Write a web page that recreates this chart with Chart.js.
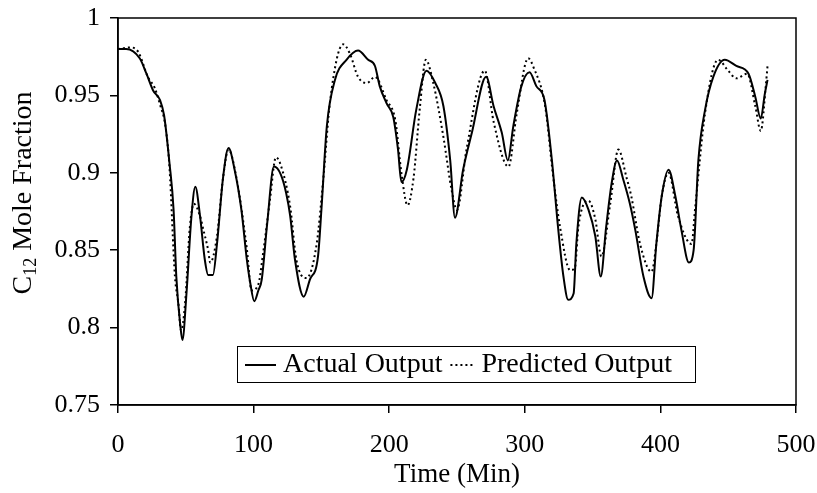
<!DOCTYPE html>
<html>
<head>
<meta charset="utf-8">
<script src="https://cdn.jsdelivr.net/npm/chart.js@4.4.1/dist/chart.umd.min.js"></script>
<style>
  html, body { margin: 0; padding: 0; background: #fff; }
  #wrap { width: 817px; height: 493px; position: relative; }
</style>
</head>
<body>
<div id="wrap"><canvas id="c" width="817" height="493"></canvas></div>
<script>
// ---- Data ----
const actualTime = [0, 6, 16, 21, 26, 31, 34, 38, 41, 43, 46, 47.5, 50.5, 54, 57, 60.5, 64, 66.5, 70, 73, 77.5, 81.5, 86, 91, 95, 97.5, 100.5, 103.5, 106, 110, 115, 120, 124, 127, 130.5, 137, 141.5, 147.5, 150, 154, 160, 168.5, 177, 184.5, 189.5, 193, 198, 203, 206.5, 209, 213, 220, 227.5, 234, 240, 245, 248.5, 254.5, 261, 271.5, 277, 283, 287.5, 291.5, 297.5, 303.5, 308.5, 314.5, 320, 324.5, 328.5, 332, 336, 338, 342, 347, 352, 356, 360, 364, 368, 372.5, 377.5, 381.5, 387.5, 393.5, 397, 401, 406, 411, 415.5, 421, 424.5, 428, 433, 439, 447.5, 456, 465, 470, 474, 477, 479];
const actualValue = [0.980, 0.980, 0.974, 0.964, 0.953, 0.947, 0.937, 0.906, 0.876, 0.833, 0.801, 0.792, 0.822, 0.870, 0.891, 0.872, 0.844, 0.834, 0.834, 0.854, 0.897, 0.916, 0.902, 0.876, 0.844, 0.829, 0.817, 0.824, 0.831, 0.867, 0.904, 0.899, 0.887, 0.872, 0.844, 0.820, 0.831, 0.846, 0.876, 0.930, 0.960, 0.973, 0.979, 0.973, 0.969, 0.956, 0.945, 0.936, 0.915, 0.894, 0.902, 0.941, 0.966, 0.958, 0.943, 0.908, 0.871, 0.902, 0.926, 0.962, 0.943, 0.926, 0.908, 0.930, 0.956, 0.965, 0.956, 0.947, 0.908, 0.865, 0.833, 0.818, 0.822, 0.854, 0.884, 0.876, 0.859, 0.833, 0.865, 0.893, 0.908, 0.896, 0.880, 0.863, 0.833, 0.819, 0.854, 0.885, 0.902, 0.885, 0.863, 0.842, 0.850, 0.908, 0.941, 0.962, 0.973, 0.969, 0.964, 0.949, 0.935, 0.951, 0.960];

const predictedTime = [0, 9, 15, 22, 27, 31, 35, 38, 42, 44.5, 46.5, 49.5, 53, 56, 60.5, 63, 66.5, 68, 73, 77.5, 81.5, 87.5, 95, 98.5, 103.5, 107, 112, 116.5, 120, 127, 131.5, 139, 146.5, 151.5, 156.5, 166, 171, 177, 183.5, 189.5, 198, 204.5, 209, 213.5, 218, 222.5, 227, 232.5, 240, 246, 250, 257, 270.5, 277, 288, 294, 302.5, 306.5, 315, 321, 326, 333.5, 337, 339.5, 347, 352, 356.5, 363, 369, 375, 378.5, 385, 393.5, 397, 401, 406, 413, 423, 425.5, 433, 442.5, 450, 456, 464, 470, 474, 478, 479];
const predictedValue = [0.980, 0.981, 0.978, 0.962, 0.955, 0.944, 0.930, 0.903, 0.833, 0.816, 0.798, 0.816, 0.865, 0.880, 0.872, 0.863, 0.850, 0.842, 0.859, 0.897, 0.915, 0.896, 0.851, 0.824, 0.828, 0.848, 0.882, 0.910, 0.905, 0.878, 0.844, 0.832, 0.854, 0.897, 0.947, 0.983, 0.977, 0.962, 0.958, 0.962, 0.947, 0.934, 0.900, 0.879, 0.897, 0.941, 0.973, 0.958, 0.923, 0.889, 0.876, 0.915, 0.966, 0.933, 0.904, 0.938, 0.974, 0.968, 0.943, 0.897, 0.865, 0.837, 0.839, 0.865, 0.882, 0.870, 0.846, 0.880, 0.915, 0.897, 0.885, 0.854, 0.836, 0.854, 0.885, 0.900, 0.872, 0.854, 0.876, 0.939, 0.973, 0.966, 0.961, 0.964, 0.943, 0.927, 0.959, 0.969];

const seriesNames = ['Actual Output', 'Predicted Output'];
const xTickValues = [0, 100, 200, 300, 400, 500];
const xTickLabels = ['0', '100', '200', '300', '400', '500'];
const yTickValues = [0.75, 0.8, 0.85, 0.9, 0.95, 1];
const yTickLabels = ['0.75', '0.8', '0.85', '0.9', '0.95', '1'];
const xTitle = 'Time (Min)';
const yTitleParts = ['C', '12', ' Mole Fraction'];

// ---- Build ----
const FONT = "'Liberation Serif', 'Times New Roman', serif";
const toPts = (xs, ys) => xs.map((x, i) => ({ x: x, y: ys[i] }));

const frame = {
  id: 'frame',
  afterDraw(chart) {
    const { ctx, chartArea: a } = chart;
    ctx.save();
    ctx.strokeStyle = '#000';
    ctx.lineWidth = 1.5;
    ctx.strokeRect(a.left, a.top, a.right - a.left, a.bottom - a.top);

    // Y axis title with subscript
    ctx.translate(24, 193);
    ctx.rotate(-Math.PI / 2);
    ctx.fillStyle = '#000';
    ctx.textBaseline = 'middle';
    const big = "28px " + FONT, small = "18px " + FONT;
    ctx.font = big; const w0 = ctx.measureText(yTitleParts[0]).width;
    ctx.font = small; const w1 = ctx.measureText(yTitleParts[1]).width;
    ctx.font = big; const w2 = ctx.measureText(yTitleParts[2]).width;
    let x = -(w0 + w1 + w2) / 2;
    ctx.font = big; ctx.fillText(yTitleParts[0], x, 0); x += w0;
    ctx.font = small; ctx.fillText(yTitleParts[1], x, 7); x += w1;
    ctx.font = big; ctx.fillText(yTitleParts[2], x, 0);
    ctx.restore();

    // Legend box
    ctx.save();
    const lx = 237, ly = 346, lw = 458, lh = 36;
    ctx.fillStyle = '#fff';
    ctx.fillRect(lx, ly, lw, lh);
    ctx.strokeStyle = '#000';
    ctx.lineWidth = 1;
    ctx.strokeRect(lx + 0.5, ly + 0.5, lw, lh);
    const cy = ly + lh / 2 + 1;
    ctx.font = "28px " + FONT;
    ctx.textBaseline = 'middle';
    ctx.fillStyle = '#000';
    const ds = chart.data.datasets;
    ctx.lineWidth = 2;
    ctx.setLineDash(ds[0].borderDash || []);
    ctx.beginPath(); ctx.moveTo(lx + 8, cy); ctx.lineTo(lx + 39, cy); ctx.stroke();
    ctx.fillText(ds[0].label, lx + 46, cy);
    const t1 = ctx.measureText(ds[0].label).width;
    const sx = lx + 46 + t1 + 8;
    ctx.setLineDash(ds[1].borderDash || []);
    ctx.beginPath(); ctx.moveTo(sx, cy); ctx.lineTo(sx + 24, cy); ctx.stroke();
    ctx.setLineDash([]);
    ctx.fillText(ds[1].label, sx + 31, cy);
    ctx.restore();
  }
};

new Chart(document.getElementById('c'), {
  type: 'line',
  data: {
    datasets: [
      {
        label: seriesNames[0],
        data: toPts(actualTime, actualValue),
        borderColor: '#000',
        borderWidth: 2,
        pointRadius: 0,
        fill: false,
        cubicInterpolationMode: 'monotone'
      },
      {
        label: seriesNames[1],
        data: toPts(predictedTime, predictedValue),
        borderColor: '#000',
        borderWidth: 2,
        borderDash: [2, 3],
        pointRadius: 0,
        fill: false,
        cubicInterpolationMode: 'monotone'
      }
    ]
  },
  options: {
    responsive: false,
    animation: false,
    layout: { padding: { left: 0, top: 18, right: 21, bottom: 0 } },
    plugins: {
      legend: { display: false },
      tooltip: { enabled: false }
    },
    scales: {
      x: {
        type: 'linear',
        min: 0, max: 500,
        afterBuildTicks: s => { s.ticks = xTickValues.map(v => ({ value: v })); },
        afterFit: s => { s.height = 88; s.paddingLeft = 0; s.paddingRight = 0; },
        ticks: {
          color: '#000',
          font: { family: FONT, size: 26 },
          padding: 17,
          maxRotation: 0,
          callback: (v) => xTickLabels[xTickValues.indexOf(v)]
        },
        grid: { drawOnChartArea: false, drawTicks: true, tickLength: 8, color: '#000', lineWidth: 1.5 },
        border: { display: true, color: '#000', width: 1.5 },
        title: {
          display: true, text: xTitle, color: '#000',
          font: { family: FONT, size: 27 },
          padding: { top: 0, bottom: 2 }
        }
      },
      y: {
        type: 'linear',
        min: 0.75, max: 1,
        afterBuildTicks: s => { s.ticks = yTickValues.map(v => ({ value: v })); },
        afterFit: s => { s.width = 118; s.paddingTop = 0; s.paddingBottom = 0; },
        ticks: {
          color: '#000',
          font: { family: FONT, size: 26 },
          padding: 10,
          callback: (v) => yTickLabels[yTickValues.findIndex(t => Math.abs(t - v) < 1e-9)]
        },
        grid: { drawOnChartArea: false, drawTicks: true, tickLength: 8, color: '#000', lineWidth: 1.5 },
        border: { display: true, color: '#000', width: 1.5 }
      }
    }
  },
  plugins: [frame]
});
</script>
</body>
</html>
